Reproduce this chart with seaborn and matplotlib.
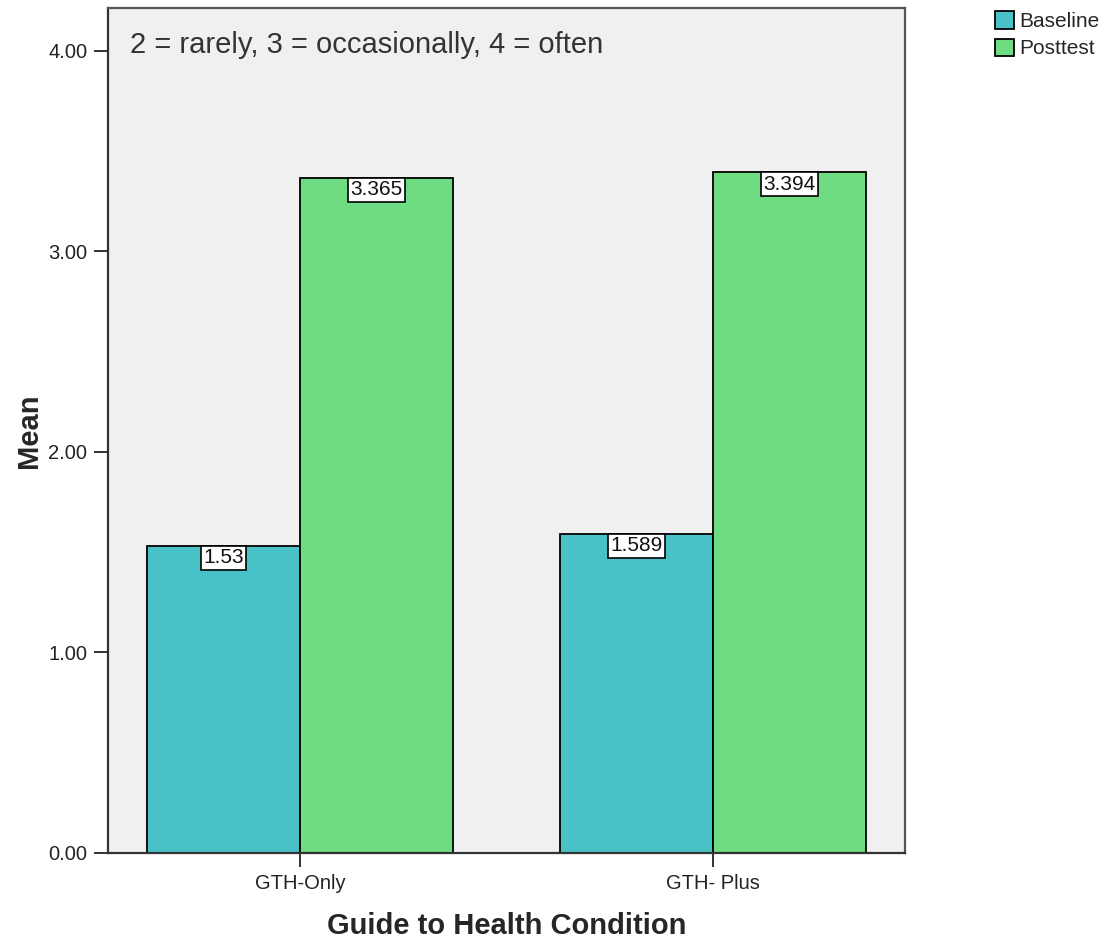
import matplotlib
matplotlib.use("Agg")
import matplotlib.pyplot as plt
import seaborn as sns
import pandas as pd

# values
conditions = ["GTH-Only", "GTH- Plus"]
times = ["Baseline", "Posttest"]
baseline_means = [1.53, 1.589]
posttest_means = [3.365, 3.394]
value_labels = {"Baseline": ["1.53", "1.589"], "Posttest": ["3.365", "3.394"]}
ytick_values = [0, 1, 2, 3, 4]
note_text = "2 = rarely, 3 = occasionally, 4 = often"

colors = ["#48C2C6", "#6EDC82"]

df = pd.DataFrame({
    "condition": conditions * 2,
    "time": [times[0]] * 2 + [times[1]] * 2,
    "mean": baseline_means + posttest_means,
})

sns.set_style("white")
plt.rcParams["font.family"] = ["Liberation Sans", "DejaVu Sans"]

fig = plt.figure(figsize=(11.15, 9.52), dpi=100)
ax = fig.add_axes([0.0969, 0.104, 0.7148, 0.8876])
ax.set_facecolor("#F0F0F0")

sns.barplot(data=df, x="condition", y="mean", hue="time", order=conditions,
            hue_order=times, palette=colors, width=0.74, edgecolor="black",
            linewidth=1.3, saturation=1, errorbar=None, ax=ax)

# value labels in white boxes just under the bar tops
for cont, t in zip(ax.containers, times):
    for bar, lab in zip(cont, value_labels[t]):
        ax.annotate(lab, xy=(bar.get_x() + bar.get_width() / 2, bar.get_height()),
                    xytext=(0, -1.5), textcoords="offset points",
                    ha="center", va="top", fontsize=15, color="#111111",
                    bbox=dict(boxstyle="square,pad=0.12", fc="white",
                              ec="black", lw=1.2))

ax.text(0.028, 0.956, note_text, transform=ax.transAxes, fontsize=21,
        color="#333333", va="center", ha="left")

ax.set_xlim(-0.465, 1.465)
ax.set_ylim(0, 4.214)
ax.set_yticks(ytick_values)
ax.set_yticklabels([f"{v:.2f}" for v in ytick_values])

ax.set_xlabel("Guide to Health Condition", fontsize=21, fontweight="bold",
              labelpad=14)
ax.set_ylabel("Mean", fontsize=21, fontweight="bold", labelpad=4)

ax.tick_params(axis="both", which="both", length=10, width=1.4,
               color="#333333", labelsize=14.5, labelcolor="#222222",
               direction="out", pad=5, left=True, bottom=True)

for side in ["left", "bottom"]:
    ax.spines[side].set_color("#333333")
    ax.spines[side].set_linewidth(1.6)
for side in ["top", "right"]:
    ax.spines[side].set_color("#555555")
    ax.spines[side].set_linewidth(1.6)

handles, labs = ax.get_legend_handles_labels()
ax.legend(handles, labs, loc="upper left", bbox_to_anchor=(1.113, 0.996),
          frameon=False, fontsize=15, handlelength=0.9, handleheight=0.9,
          handletextpad=0.25, labelspacing=0.35, borderaxespad=0,
          borderpad=0)

fig.savefig("out.png", dpi=100)
